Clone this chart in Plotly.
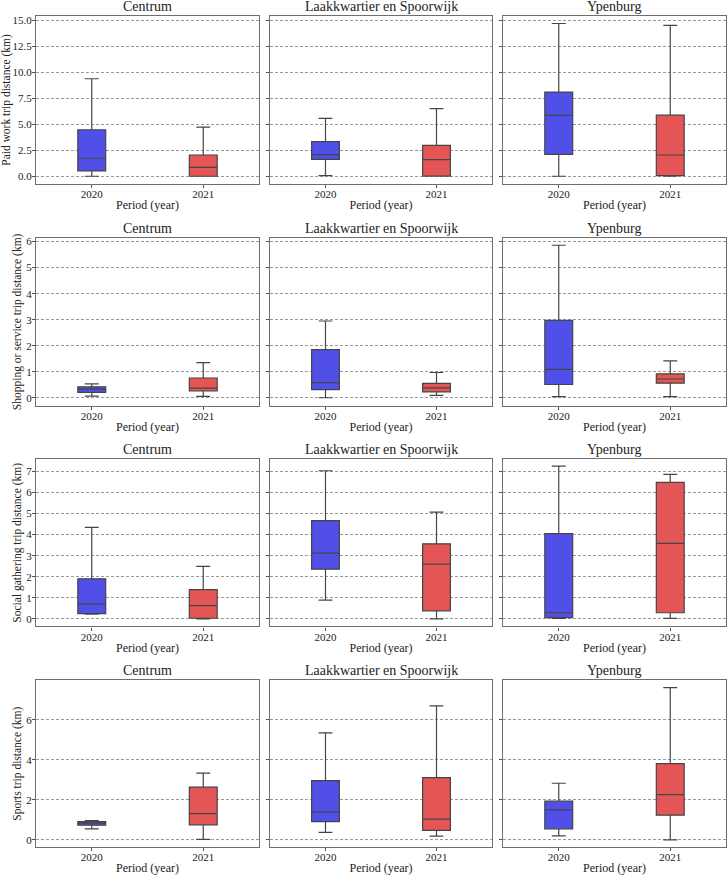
import plotly.graph_objects as go
from plotly.subplots import make_subplots

# districts (columns), periods and trip purposes (rows)
districts = ["Centrum", "Laakkwartier en Spoorwijk", "Ypenburg"]
years = ["2020", "2021"]
y_titles = [
    "Paid work trip distance (km)",
    "Shopping or service trip distance (km)",
    "Social gathering trip distance (km)",
    "Sports trip distance (km)",
]

# five-number summaries read off the boxes:
# (lower whisker, Q1, median, Q3, upper whisker) per district, per year
paid_work = [
    [(0.00, 0.51, 1.73, 4.47, 9.37), (0.00, 0.00, 0.86, 2.04, 4.73)],
    [(0.06, 1.63, 2.07, 3.32, 5.57), (0.00, 0.02, 1.59, 2.97, 6.49)],
    [(0.00, 2.11, 5.85, 8.09, 14.68), (0.00, 0.05, 2.04, 5.88, 14.49)],
]
shopping = [
    [(0.06, 0.21, 0.33, 0.42, 0.53), (0.05, 0.26, 0.37, 0.76, 1.35)],
    [(0.00, 0.31, 0.58, 1.85, 2.95), (0.09, 0.23, 0.38, 0.55, 0.97)],
    [(0.04, 0.51, 1.09, 2.97, 5.86), (0.04, 0.56, 0.72, 0.92, 1.42)],
]
social = [
    [(0.22, 0.25, 0.70, 1.90, 4.34), (0.00, 0.03, 0.63, 1.39, 2.49)],
    [(0.89, 2.36, 3.12, 4.66, 7.03), (0.00, 0.38, 2.60, 3.56, 5.07)],
    [(0.02, 0.06, 0.29, 4.05, 7.25), (0.02, 0.29, 3.58, 6.48, 6.86)],
]
sports = [
    [(0.55, 0.73, 0.83, 0.91, 0.96), (0.02, 0.75, 1.31, 2.64, 3.34)],
    [(0.37, 0.91, 1.40, 2.96, 5.35), (0.18, 0.47, 1.03, 3.11, 6.70)],
    [(0.20, 0.55, 1.50, 1.93, 2.83), (0.00, 1.23, 2.26, 3.81, 7.61)],
]
purposes = [paid_work, shopping, social, sports]

# axis settings per row
y_ranges = [[-0.74, 15.4], [-0.3, 6.13], [-0.36, 7.58], [-0.36, 7.97]]
y_dticks = [2.5, 1, 1, 2]
y_formats = [".1f", "d", "d", "d"]

fill_colors = ["#5050E8", "#E45656"]
font_family = "Liberation Serif, Times New Roman, serif"
text_color = "#222"

col_domains = [[0.0, 0.3232], [0.3391, 0.6609], [0.6768, 1.0]]
row_domains = [[0.7979, 1.0], [0.5312, 0.7326], [0.2654, 0.4667], [0.0, 0.2004]]

fig = make_subplots(rows=4, cols=3)

for r, data in enumerate(purposes):
    for c, district in enumerate(districts):
        for k, year in enumerate(years):
            lo, q1, med, q3, hi = data[c][k]
            fig.add_trace(go.Box(
                x=[k + 1],
                lowerfence=[lo], q1=[q1], median=[med], q3=[q3], upperfence=[hi],
                width=0.25,
                whiskerwidth=0.5,
                fillcolor=fill_colors[k],
                line=dict(color="#454545", width=1.2),
                name=year,
                showlegend=False,
                hoverinfo="y",
            ), row=r + 1, col=c + 1)

        fig.update_xaxes(
            domain=col_domains[c], automargin=False,
            range=[0.5, 2.5], tickvals=[1, 2], ticktext=years,
            showgrid=False, zeroline=False,
            showline=True, mirror=True, linecolor="#6e6e6e", linewidth=1.2,
            ticks="outside", ticklen=3, tickcolor="#555", ticklabelstandoff=-3,
            tickfont=dict(size=11, family=font_family, color=text_color),
            title=dict(text="Period (year)", standoff=1,
                       font=dict(size=12, family=font_family, color=text_color)),
            row=r + 1, col=c + 1,
        )
        fig.update_yaxes(
            domain=row_domains[r], automargin=False,
            range=y_ranges[r], dtick=y_dticks[r], tick0=0, tickformat=y_formats[r],
            showticklabels=(c == 0),
            showgrid=True, gridcolor="#9a9a9a", griddash="3px,2px", gridwidth=0.8,
            zeroline=False,
            showline=True, mirror=True, linecolor="#6e6e6e", linewidth=1.2,
            ticks="outside", ticklen=3, tickcolor="#555", ticklabelstandoff=-2,
            tickfont=dict(size=11, family=font_family, color=text_color),
            row=r + 1, col=c + 1,
        )
        if c == 0:
            fig.update_yaxes(
                title=dict(text=y_titles[r], standoff=2,
                           font=dict(size=11.5, family=font_family, color=text_color)),
                row=r + 1, col=c + 1,
            )

        # panel title above each subplot
        fig.add_annotation(
            text=district, xref="paper", yref="paper",
            x=sum(col_domains[c]) / 2, y=row_domains[r][1],
            xanchor="center", yanchor="bottom", yshift=0, showarrow=False,
            font=dict(size=14, family=font_family, color=text_color),
        )

fig.update_layout(
    width=727, height=876,
    margin=dict(l=36, r=1, t=16, b=29),
    plot_bgcolor="white", paper_bgcolor="white",
    font=dict(family=font_family),
)

# the page body has a default 8px margin; drop it so the figure fits the window
fig.write_html(
    "out.html",
    config={"displayModeBar": False},
    post_script="document.body.style.margin = '0';",
)
